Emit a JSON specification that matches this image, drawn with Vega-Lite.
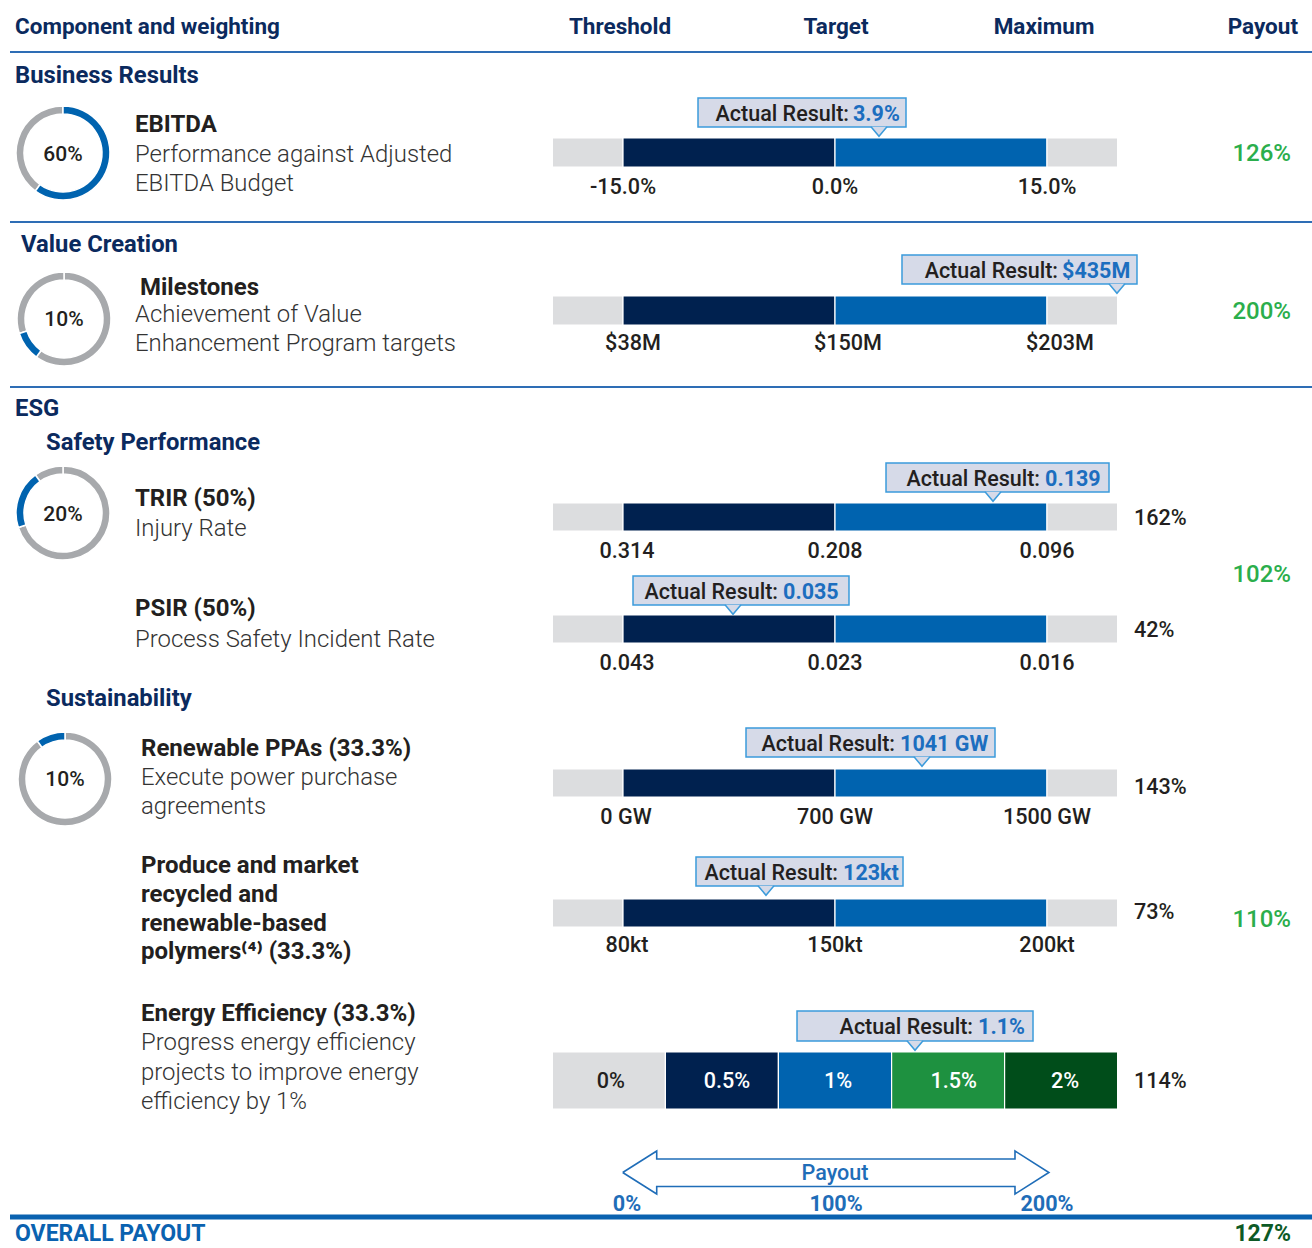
{
  "$schema": "https://vega.github.io/schema/vega-lite/v6.json",
  "width": 1312,
  "height": 1248,
  "autosize": {"type": "none"},
  "padding": 0,
  "background": "#ffffff",
  "config": {"view": {"stroke": null}, "font": "Roboto"},
  "datasets": {
    "rules": [
      {"kind": "thin", "x0": -289.15, "x1": 325, "y": 52},
      {"kind": "thin", "x0": -289.15, "x1": 325, "y": 222},
      {"kind": "thin", "x0": -289.15, "x1": 325, "y": 387},
      {"kind": "thick", "x0": -289.15, "x1": 325, "y": 1217}
    ],
    "bars": [
      {"metric": "EBITDA", "band": "gray", "from": -33.3, "to": 0, "top": 138, "bottom": 167},
      {"metric": "EBITDA", "band": "navy", "from": 0, "to": 100, "top": 138, "bottom": 167},
      {"metric": "EBITDA", "band": "blue", "from": 100, "to": 200, "top": 138, "bottom": 167},
      {"metric": "EBITDA", "band": "gray", "from": 200, "to": 233.3, "top": 138, "bottom": 167},
      {"metric": "Milestones", "band": "gray", "from": -33.3, "to": 0, "top": 296, "bottom": 325},
      {"metric": "Milestones", "band": "navy", "from": 0, "to": 100, "top": 296, "bottom": 325},
      {"metric": "Milestones", "band": "blue", "from": 100, "to": 200, "top": 296, "bottom": 325},
      {"metric": "Milestones", "band": "gray", "from": 200, "to": 233.3, "top": 296, "bottom": 325},
      {"metric": "TRIR", "band": "gray", "from": -33.3, "to": 0, "top": 503, "bottom": 531},
      {"metric": "TRIR", "band": "navy", "from": 0, "to": 100, "top": 503, "bottom": 531},
      {"metric": "TRIR", "band": "blue", "from": 100, "to": 200, "top": 503, "bottom": 531},
      {"metric": "TRIR", "band": "gray", "from": 200, "to": 233.3, "top": 503, "bottom": 531},
      {"metric": "PSIR", "band": "gray", "from": -33.3, "to": 0, "top": 615, "bottom": 643},
      {"metric": "PSIR", "band": "navy", "from": 0, "to": 100, "top": 615, "bottom": 643},
      {"metric": "PSIR", "band": "blue", "from": 100, "to": 200, "top": 615, "bottom": 643},
      {"metric": "PSIR", "band": "gray", "from": 200, "to": 233.3, "top": 615, "bottom": 643},
      {"metric": "PPA", "band": "gray", "from": -33.3, "to": 0, "top": 769, "bottom": 797},
      {"metric": "PPA", "band": "navy", "from": 0, "to": 100, "top": 769, "bottom": 797},
      {"metric": "PPA", "band": "blue", "from": 100, "to": 200, "top": 769, "bottom": 797},
      {"metric": "PPA", "band": "gray", "from": 200, "to": 233.3, "top": 769, "bottom": 797},
      {"metric": "Polymers", "band": "gray", "from": -33.3, "to": 0, "top": 899, "bottom": 927},
      {"metric": "Polymers", "band": "navy", "from": 0, "to": 100, "top": 899, "bottom": 927},
      {"metric": "Polymers", "band": "blue", "from": 100, "to": 200, "top": 899, "bottom": 927},
      {"metric": "Polymers", "band": "gray", "from": 200, "to": 233.3, "top": 899, "bottom": 927},
      {"metric": "Energy", "band": "gray", "from": -33.3, "to": 20, "top": 1052, "bottom": 1109},
      {"metric": "Energy", "band": "navy", "from": 20, "to": 73.3, "top": 1052, "bottom": 1109},
      {"metric": "Energy", "band": "blue", "from": 73.3, "to": 126.7, "top": 1052, "bottom": 1109},
      {"metric": "Energy", "band": "green", "from": 126.7, "to": 180, "top": 1052, "bottom": 1109},
      {"metric": "Energy", "band": "darkgreen", "from": 180, "to": 233.3, "top": 1052, "bottom": 1109}
    ],
    "donuts": [
      {"donut": "EBITDA", "part": "weight", "start": 0, "end": 60, "x": -264.15, "y": 153},
      {"donut": "EBITDA", "part": "rest", "start": 60, "end": 100, "x": -264.15, "y": 153},
      {"donut": "Milestones", "part": "rest", "start": 0, "end": 60, "x": -263.68, "y": 319},
      {"donut": "Milestones", "part": "weight", "start": 60, "end": 70, "x": -263.68, "y": 319},
      {"donut": "Milestones", "part": "rest", "start": 70, "end": 100, "x": -263.68, "y": 319},
      {"donut": "Safety", "part": "rest", "start": 0, "end": 70, "x": -264.15, "y": 513},
      {"donut": "Safety", "part": "weight", "start": 70, "end": 90, "x": -264.15, "y": 513},
      {"donut": "Safety", "part": "rest", "start": 90, "end": 100, "x": -264.15, "y": 513},
      {"donut": "Sustainability", "part": "rest", "start": 0, "end": 90, "x": -263.21, "y": 779},
      {"donut": "Sustainability", "part": "weight", "start": 90, "end": 100, "x": -263.21, "y": 779}
    ],
    "callouts": [
      {"metric": "EBITDA", "label": "Actual Result:", "value": "3.9%", "x0": 35.38, "x1": 133.49, "ytop": 98, "ybot": 127, "ymid": 112.5, "xl": 106.6, "xv": 108.5, "xp": 120.75},
      {"metric": "Milestones", "label": "Actual Result:", "value": "$435M", "x0": 131.6, "x1": 242.45, "ytop": 255, "ybot": 284, "ymid": 269.5, "xl": 205.2, "xv": 207.1, "xp": 233.0},
      {"metric": "TRIR", "label": "Actual Result:", "value": "0.139", "x0": 124.06, "x1": 229.25, "ytop": 463, "ybot": 492, "ymid": 477.5, "xl": 196.7, "xv": 199.1, "xp": 174.53},
      {"metric": "PSIR", "label": "Actual Result:", "value": "0.035", "x0": 4.72, "x1": 106.6, "ytop": 576, "ybot": 605, "ymid": 590.5, "xl": 73.1, "xv": 75.5, "xp": 51.89},
      {"metric": "PPA", "label": "Actual Result:", "value": "1041 GW", "x0": 58.02, "x1": 175.47, "ytop": 728, "ybot": 757, "ymid": 742.5, "xl": 128.3, "xv": 130.7, "xp": 141.04},
      {"metric": "Polymers", "label": "Actual Result:", "value": "123kt", "x0": 34.43, "x1": 132.08, "ytop": 857, "ybot": 886, "ymid": 871.5, "xl": 101.4, "xv": 103.8, "xp": 67.45},
      {"metric": "Energy", "label": "Actual Result:", "value": "1.1%", "x0": 82.08, "x1": 193.4, "ytop": 1011, "ybot": 1041, "ymid": 1026, "xl": 165.1, "xv": 167.5, "xp": 137.74}
    ],
    "arrow": [
      {"i": 1, "x": -0.14, "y": 1172.5},
      {"i": 2, "x": 15.9, "y": 1151},
      {"i": 3, "x": 15.9, "y": 1159},
      {"i": 4, "x": 184.9, "y": 1159},
      {"i": 5, "x": 184.9, "y": 1151},
      {"i": 6, "x": 200.9, "y": 1172.5},
      {"i": 7, "x": 184.9, "y": 1194},
      {"i": 8, "x": 184.9, "y": 1186.5},
      {"i": 9, "x": 15.9, "y": 1186.5},
      {"i": 10, "x": 15.9, "y": 1194},
      {"i": 11, "x": -0.14, "y": 1172.5}
    ],
    "texts": [
      {"kind": "header_left", "text": "Component and weighting", "x": -286.79, "y": 25},
      {"kind": "header_center", "text": "Threshold", "x": -1.4, "y": 25},
      {"kind": "header_center", "text": "Target", "x": 100.5, "y": 25},
      {"kind": "header_center", "text": "Maximum", "x": 198.6, "y": 25},
      {"kind": "header_right", "text": "Payout", "x": 318.4, "y": 25},
      {"kind": "section", "text": "Business Results", "x": -286.79, "y": 74},
      {"kind": "section", "text": "Value Creation", "x": -283.96, "y": 243},
      {"kind": "section", "text": "ESG", "x": -286.79, "y": 407},
      {"kind": "section", "text": "Safety Performance", "x": -272.17, "y": 441},
      {"kind": "section", "text": "Sustainability", "x": -272.17, "y": 697},
      {"kind": "title", "text": "EBITDA", "x": -230.19, "y": 123},
      {"kind": "title", "text": "Milestones", "x": -227.83, "y": 285.5},
      {"kind": "title", "text": "TRIR (50%)", "x": -230.19, "y": 497},
      {"kind": "title", "text": "PSIR (50%)", "x": -230.19, "y": 607},
      {"kind": "title", "text": "Renewable PPAs (33.3%)", "x": -227.36, "y": 747},
      {"kind": "title", "text": "Produce and market", "x": -227.36, "y": 864},
      {"kind": "title", "text": "recycled and", "x": -227.36, "y": 893},
      {"kind": "title", "text": "renewable-based", "x": -227.36, "y": 922},
      {"kind": "title", "text": "polymers⁽⁴⁾ (33.3%)", "x": -227.36, "y": 950},
      {"kind": "title", "text": "Energy Efficiency (33.3%)", "x": -227.36, "y": 1012},
      {"kind": "desc", "text": "Performance against Adjusted", "x": -230.19, "y": 152.5},
      {"kind": "desc", "text": "EBITDA Budget", "x": -230.19, "y": 181.5},
      {"kind": "desc", "text": "Achievement of Value", "x": -230.19, "y": 312.5},
      {"kind": "desc", "text": "Enhancement Program targets", "x": -230.19, "y": 342},
      {"kind": "desc", "text": "Injury Rate", "x": -230.19, "y": 527},
      {"kind": "desc", "text": "Process Safety Incident Rate", "x": -230.19, "y": 637.5},
      {"kind": "desc", "text": "Execute power purchase", "x": -227.36, "y": 776},
      {"kind": "desc", "text": "agreements", "x": -227.36, "y": 805},
      {"kind": "desc", "text": "Progress energy efficiency", "x": -227.36, "y": 1041},
      {"kind": "desc", "text": "projects to improve energy", "x": -227.36, "y": 1070.5},
      {"kind": "desc", "text": "efficiency by 1%", "x": -227.36, "y": 1099.5},
      {"kind": "donut", "text": "60%", "x": -264.15, "y": 153},
      {"kind": "donut", "text": "10%", "x": -263.68, "y": 318},
      {"kind": "donut", "text": "20%", "x": -264.15, "y": 513},
      {"kind": "donut", "text": "10%", "x": -263.21, "y": 778},
      {"kind": "tick", "text": "-15.0%", "x": 0, "y": 185.5},
      {"kind": "tick", "text": "0.0%", "x": 100, "y": 185.5},
      {"kind": "tick", "text": "15.0%", "x": 200, "y": 185.5},
      {"kind": "tick", "text": "$38M", "x": 4.7, "y": 341.5},
      {"kind": "tick", "text": "$150M", "x": 106.1, "y": 341.5},
      {"kind": "tick", "text": "$203M", "x": 206.1, "y": 341.5},
      {"kind": "tick", "text": "0.314", "x": 1.9, "y": 549.5},
      {"kind": "tick", "text": "0.208", "x": 100, "y": 549.5},
      {"kind": "tick", "text": "0.096", "x": 200, "y": 549.5},
      {"kind": "tick", "text": "0.043", "x": 1.9, "y": 661.5},
      {"kind": "tick", "text": "0.023", "x": 100, "y": 661.5},
      {"kind": "tick", "text": "0.016", "x": 200, "y": 661.5},
      {"kind": "tick", "text": "0 GW", "x": 1.4, "y": 815.5},
      {"kind": "tick", "text": "700 GW", "x": 100, "y": 815.5},
      {"kind": "tick", "text": "1500 GW", "x": 200, "y": 815.5},
      {"kind": "tick", "text": "80kt", "x": 1.9, "y": 943.5},
      {"kind": "tick", "text": "150kt", "x": 100, "y": 943.5},
      {"kind": "tick", "text": "200kt", "x": 200, "y": 943.5},
      {"kind": "energy_dark", "text": "0%", "x": -5.7, "y": 1080},
      {"kind": "energy_light", "text": "0.5%", "x": 49, "y": 1080},
      {"kind": "energy_light", "text": "1%", "x": 101.4, "y": 1080},
      {"kind": "energy_light", "text": "1.5%", "x": 156, "y": 1080},
      {"kind": "energy_light", "text": "2%", "x": 208.5, "y": 1080},
      {"kind": "payout", "text": "126%", "x": 315.09, "y": 152},
      {"kind": "payout", "text": "200%", "x": 315.09, "y": 310},
      {"kind": "payout", "text": "102%", "x": 315.09, "y": 573},
      {"kind": "payout", "text": "110%", "x": 315.09, "y": 918},
      {"kind": "subpayout", "text": "162%", "x": 241.04, "y": 517},
      {"kind": "subpayout", "text": "42%", "x": 241.04, "y": 629},
      {"kind": "subpayout", "text": "143%", "x": 241.04, "y": 786},
      {"kind": "subpayout", "text": "73%", "x": 241.04, "y": 911},
      {"kind": "subpayout", "text": "114%", "x": 241.04, "y": 1080},
      {"kind": "arrow_title", "text": "Payout", "x": 100, "y": 1172},
      {"kind": "arrow_tick", "text": "0%", "x": 1.9, "y": 1202.5},
      {"kind": "arrow_tick", "text": "100%", "x": 100.5, "y": 1202.5},
      {"kind": "arrow_tick", "text": "200%", "x": 200, "y": 1202.5},
      {"kind": "overall_label", "text": "OVERALL PAYOUT", "x": -286.79, "y": 1232},
      {"kind": "overall_value", "text": "127%", "x": 315.09, "y": 1232}
    ]
  },
  "layer": [
    {
      "data": {"name": "rules"},
      "transform": [{"filter": "datum.kind === 'thin'"}],
      "mark": {"type": "rule", "color": "#2E6DB5", "strokeWidth": 2},
      "encoding": {
        "x": {"field": "x0", "type": "quantitative", "scale": {"domain": [-293.87, 325], "nice": false, "zero": false}, "axis": null},
        "x2": {"field": "x1"},
        "y": {"field": "y", "type": "quantitative", "scale": {"domain": [0, 1248], "reverse": true, "nice": false, "zero": false}, "axis": null}
      }
    },
    {
      "data": {"name": "rules"},
      "transform": [{"filter": "datum.kind === 'thick'"}],
      "mark": {"type": "rule", "color": "#0A62B0", "strokeWidth": 5},
      "encoding": {
        "x": {"field": "x0", "type": "quantitative", "scale": {"domain": [-293.87, 325], "nice": false, "zero": false}, "axis": null},
        "x2": {"field": "x1"},
        "y": {"field": "y", "type": "quantitative", "scale": {"domain": [0, 1248], "reverse": true, "nice": false, "zero": false}, "axis": null}
      }
    },
    {
      "data": {"name": "bars"},
      "mark": {"type": "rect", "stroke": "#ffffff", "strokeWidth": 1.2},
      "encoding": {
        "x": {"field": "from", "type": "quantitative", "scale": {"domain": [-293.87, 325], "nice": false, "zero": false}, "axis": null},
        "x2": {"field": "to"},
        "y": {"field": "top", "type": "quantitative", "scale": {"domain": [0, 1248], "reverse": true, "nice": false, "zero": false}, "axis": null},
        "y2": {"field": "bottom"},
        "color": {"field": "band", "type": "nominal", "legend": null, "scale": {"domain": ["gray", "navy", "blue", "green", "darkgreen"], "range": ["#DCDDDF", "#00214F", "#0063AF", "#1E9140", "#004D1A"]}}
      }
    },
    {
      "data": {"name": "donuts"},
      "transform": [{"filter": "datum.part === 'rest'"}],
      "mark": {"type": "arc", "radius": 47, "radius2": 39, "fill": "#A7A9AC", "stroke": "#ffffff", "strokeWidth": 1.5},
      "encoding": {
        "x": {"field": "x", "type": "quantitative", "scale": {"domain": [-293.87, 325], "nice": false, "zero": false}, "axis": null},
        "y": {"field": "y", "type": "quantitative", "scale": {"domain": [0, 1248], "reverse": true, "nice": false, "zero": false}, "axis": null},
        "theta": {"field": "start", "type": "quantitative", "stack": null, "scale": {"domain": [0, 100], "range": [0, 6.283185307179586]}},
        "theta2": {"field": "end"}
      }
    },
    {
      "data": {"name": "donuts"},
      "transform": [{"filter": "datum.part === 'weight'"}],
      "mark": {"type": "arc", "radius": 47, "radius2": 39, "fill": "#0063AF", "stroke": "#ffffff", "strokeWidth": 1.5},
      "encoding": {
        "x": {"field": "x", "type": "quantitative", "scale": {"domain": [-293.87, 325], "nice": false, "zero": false}, "axis": null},
        "y": {"field": "y", "type": "quantitative", "scale": {"domain": [0, 1248], "reverse": true, "nice": false, "zero": false}, "axis": null},
        "theta": {"field": "start", "type": "quantitative", "stack": null, "scale": {"domain": [0, 100], "range": [0, 6.283185307179586]}},
        "theta2": {"field": "end"}
      }
    },
    {
      "data": {"name": "callouts"},
      "mark": {"type": "rect", "fill": "#D6DAE8", "stroke": "#3B9BDB", "strokeWidth": 1.5},
      "encoding": {
        "x": {"field": "x0", "type": "quantitative", "scale": {"domain": [-293.87, 325], "nice": false, "zero": false}, "axis": null},
        "x2": {"field": "x1"},
        "y": {"field": "ytop", "type": "quantitative", "scale": {"domain": [0, 1248], "reverse": true, "nice": false, "zero": false}, "axis": null},
        "y2": {"field": "ybot"}
      }
    },
    {
      "data": {"name": "callouts"},
      "mark": {"type": "point", "shape": "M-1,-0.6L0,0.6L1,-0.6", "size": 256, "filled": true, "fill": "#D6DAE8", "stroke": "#3B9BDB", "strokeWidth": 1.5, "opacity": 1, "yOffset": 4.5},
      "encoding": {
        "x": {"field": "xp", "type": "quantitative", "scale": {"domain": [-293.87, 325], "nice": false, "zero": false}, "axis": null},
        "y": {"field": "ybot", "type": "quantitative", "scale": {"domain": [0, 1248], "reverse": true, "nice": false, "zero": false}, "axis": null}
      }
    },
    {
      "data": {"name": "callouts"},
      "mark": {"type": "text", "align": "right", "baseline": "middle", "dy": 2, "font": "Roboto", "fontSize": 21.5, "fontWeight": 500, "color": "#231F20"},
      "encoding": {
        "x": {"field": "xl", "type": "quantitative", "scale": {"domain": [-293.87, 325], "nice": false, "zero": false}, "axis": null},
        "y": {"field": "ymid", "type": "quantitative", "scale": {"domain": [0, 1248], "reverse": true, "nice": false, "zero": false}, "axis": null},
        "text": {"field": "label"}
      }
    },
    {
      "data": {"name": "callouts"},
      "mark": {"type": "text", "align": "left", "baseline": "middle", "dy": 2, "font": "Roboto", "fontSize": 21.5, "fontWeight": "bold", "color": "#1C6EBF"},
      "encoding": {
        "x": {"field": "xv", "type": "quantitative", "scale": {"domain": [-293.87, 325], "nice": false, "zero": false}, "axis": null},
        "y": {"field": "ymid", "type": "quantitative", "scale": {"domain": [0, 1248], "reverse": true, "nice": false, "zero": false}, "axis": null},
        "text": {"field": "value"}
      }
    },
    {
      "data": {"name": "arrow"},
      "mark": {"type": "line", "color": "#1F6DB8", "strokeWidth": 1.6},
      "encoding": {
        "x": {"field": "x", "type": "quantitative", "scale": {"domain": [-293.87, 325], "nice": false, "zero": false}, "axis": null},
        "y": {"field": "y", "type": "quantitative", "scale": {"domain": [0, 1248], "reverse": true, "nice": false, "zero": false}, "axis": null},
        "order": {"field": "i", "type": "quantitative"}
      }
    },
    {
      "data": {"name": "texts"},
      "transform": [{"filter": "datum.kind === 'header_left'"}],
      "mark": {"type": "text", "align": "left", "baseline": "middle", "dy": 2, "font": "Roboto", "fontSize": 22.5, "fontWeight": "bold", "color": "#0B2A5E"},
      "encoding": {
        "x": {"field": "x", "type": "quantitative", "scale": {"domain": [-293.87, 325], "nice": false, "zero": false}, "axis": null},
        "y": {"field": "y", "type": "quantitative", "scale": {"domain": [0, 1248], "reverse": true, "nice": false, "zero": false}, "axis": null},
        "text": {"field": "text"}
      }
    },
    {
      "data": {"name": "texts"},
      "transform": [{"filter": "datum.kind === 'section'"}],
      "mark": {"type": "text", "align": "left", "baseline": "middle", "dy": 2, "font": "Roboto", "fontSize": 23.8, "fontWeight": "bold", "color": "#0B2A5E"},
      "encoding": {
        "x": {"field": "x", "type": "quantitative", "scale": {"domain": [-293.87, 325], "nice": false, "zero": false}, "axis": null},
        "y": {"field": "y", "type": "quantitative", "scale": {"domain": [0, 1248], "reverse": true, "nice": false, "zero": false}, "axis": null},
        "text": {"field": "text"}
      }
    },
    {
      "data": {"name": "texts"},
      "transform": [{"filter": "datum.kind === 'header_center'"}],
      "mark": {"type": "text", "align": "center", "baseline": "middle", "dy": 2, "font": "Roboto", "fontSize": 22.5, "fontWeight": "bold", "color": "#0B2A5E"},
      "encoding": {
        "x": {"field": "x", "type": "quantitative", "scale": {"domain": [-293.87, 325], "nice": false, "zero": false}, "axis": null},
        "y": {"field": "y", "type": "quantitative", "scale": {"domain": [0, 1248], "reverse": true, "nice": false, "zero": false}, "axis": null},
        "text": {"field": "text"}
      }
    },
    {
      "data": {"name": "texts"},
      "transform": [{"filter": "datum.kind === 'header_right'"}],
      "mark": {"type": "text", "align": "right", "baseline": "middle", "dy": 2, "font": "Roboto", "fontSize": 22.5, "fontWeight": "bold", "color": "#0B2A5E"},
      "encoding": {
        "x": {"field": "x", "type": "quantitative", "scale": {"domain": [-293.87, 325], "nice": false, "zero": false}, "axis": null},
        "y": {"field": "y", "type": "quantitative", "scale": {"domain": [0, 1248], "reverse": true, "nice": false, "zero": false}, "axis": null},
        "text": {"field": "text"}
      }
    },
    {
      "data": {"name": "texts"},
      "transform": [{"filter": "datum.kind === 'title'"}],
      "mark": {"type": "text", "align": "left", "baseline": "middle", "dy": 2, "font": "Roboto", "fontSize": 24, "fontWeight": "bold", "color": "#231F20"},
      "encoding": {
        "x": {"field": "x", "type": "quantitative", "scale": {"domain": [-293.87, 325], "nice": false, "zero": false}, "axis": null},
        "y": {"field": "y", "type": "quantitative", "scale": {"domain": [0, 1248], "reverse": true, "nice": false, "zero": false}, "axis": null},
        "text": {"field": "text"}
      }
    },
    {
      "data": {"name": "texts"},
      "transform": [{"filter": "datum.kind === 'desc'"}],
      "mark": {"type": "text", "align": "left", "baseline": "middle", "dy": 2, "font": "Roboto", "fontSize": 23.9, "fontWeight": 300, "color": "#333333"},
      "encoding": {
        "x": {"field": "x", "type": "quantitative", "scale": {"domain": [-293.87, 325], "nice": false, "zero": false}, "axis": null},
        "y": {"field": "y", "type": "quantitative", "scale": {"domain": [0, 1248], "reverse": true, "nice": false, "zero": false}, "axis": null},
        "text": {"field": "text"}
      }
    },
    {
      "data": {"name": "texts"},
      "transform": [{"filter": "datum.kind === 'donut'"}],
      "mark": {"type": "text", "align": "center", "baseline": "middle", "dy": 1.5, "font": "Roboto", "fontSize": 21, "fontWeight": 500, "color": "#231F20"},
      "encoding": {
        "x": {"field": "x", "type": "quantitative", "scale": {"domain": [-293.87, 325], "nice": false, "zero": false}, "axis": null},
        "y": {"field": "y", "type": "quantitative", "scale": {"domain": [0, 1248], "reverse": true, "nice": false, "zero": false}, "axis": null},
        "text": {"field": "text"}
      }
    },
    {
      "data": {"name": "texts"},
      "transform": [{"filter": "datum.kind === 'tick' || datum.kind === 'energy_dark'"}],
      "mark": {"type": "text", "align": "center", "baseline": "middle", "dy": 2, "font": "Roboto", "fontSize": 21.6, "fontWeight": 500, "color": "#231F20"},
      "encoding": {
        "x": {"field": "x", "type": "quantitative", "scale": {"domain": [-293.87, 325], "nice": false, "zero": false}, "axis": null},
        "y": {"field": "y", "type": "quantitative", "scale": {"domain": [0, 1248], "reverse": true, "nice": false, "zero": false}, "axis": null},
        "text": {"field": "text"}
      }
    },
    {
      "data": {"name": "texts"},
      "transform": [{"filter": "datum.kind === 'energy_light'"}],
      "mark": {"type": "text", "align": "center", "baseline": "middle", "dy": 2, "font": "Roboto", "fontSize": 21.6, "fontWeight": 500, "color": "#ffffff"},
      "encoding": {
        "x": {"field": "x", "type": "quantitative", "scale": {"domain": [-293.87, 325], "nice": false, "zero": false}, "axis": null},
        "y": {"field": "y", "type": "quantitative", "scale": {"domain": [0, 1248], "reverse": true, "nice": false, "zero": false}, "axis": null},
        "text": {"field": "text"}
      }
    },
    {
      "data": {"name": "texts"},
      "transform": [{"filter": "datum.kind === 'subpayout'"}],
      "mark": {"type": "text", "align": "left", "baseline": "middle", "dy": 2, "font": "Roboto", "fontSize": 21.6, "fontWeight": 500, "color": "#231F20"},
      "encoding": {
        "x": {"field": "x", "type": "quantitative", "scale": {"domain": [-293.87, 325], "nice": false, "zero": false}, "axis": null},
        "y": {"field": "y", "type": "quantitative", "scale": {"domain": [0, 1248], "reverse": true, "nice": false, "zero": false}, "axis": null},
        "text": {"field": "text"}
      }
    },
    {
      "data": {"name": "texts"},
      "transform": [{"filter": "datum.kind === 'payout'"}],
      "mark": {"type": "text", "align": "right", "baseline": "middle", "dy": 2, "font": "Roboto", "fontSize": 24, "fontWeight": 500, "color": "#2BAE4C"},
      "encoding": {
        "x": {"field": "x", "type": "quantitative", "scale": {"domain": [-293.87, 325], "nice": false, "zero": false}, "axis": null},
        "y": {"field": "y", "type": "quantitative", "scale": {"domain": [0, 1248], "reverse": true, "nice": false, "zero": false}, "axis": null},
        "text": {"field": "text"}
      }
    },
    {
      "data": {"name": "texts"},
      "transform": [{"filter": "datum.kind === 'arrow_title'"}],
      "mark": {"type": "text", "align": "center", "baseline": "middle", "dy": 2, "font": "Roboto", "fontSize": 21.6, "fontWeight": 500, "color": "#1F6DB8"},
      "encoding": {
        "x": {"field": "x", "type": "quantitative", "scale": {"domain": [-293.87, 325], "nice": false, "zero": false}, "axis": null},
        "y": {"field": "y", "type": "quantitative", "scale": {"domain": [0, 1248], "reverse": true, "nice": false, "zero": false}, "axis": null},
        "text": {"field": "text"}
      }
    },
    {
      "data": {"name": "texts"},
      "transform": [{"filter": "datum.kind === 'arrow_tick'"}],
      "mark": {"type": "text", "align": "center", "baseline": "middle", "dy": 2, "font": "Roboto", "fontSize": 21.6, "fontWeight": "bold", "color": "#1F6DB8"},
      "encoding": {
        "x": {"field": "x", "type": "quantitative", "scale": {"domain": [-293.87, 325], "nice": false, "zero": false}, "axis": null},
        "y": {"field": "y", "type": "quantitative", "scale": {"domain": [0, 1248], "reverse": true, "nice": false, "zero": false}, "axis": null},
        "text": {"field": "text"}
      }
    },
    {
      "data": {"name": "texts"},
      "transform": [{"filter": "datum.kind === 'overall_label'"}],
      "mark": {"type": "text", "align": "left", "baseline": "middle", "dy": 2, "font": "Roboto", "fontSize": 23, "fontWeight": "bold", "color": "#0A62B0"},
      "encoding": {
        "x": {"field": "x", "type": "quantitative", "scale": {"domain": [-293.87, 325], "nice": false, "zero": false}, "axis": null},
        "y": {"field": "y", "type": "quantitative", "scale": {"domain": [0, 1248], "reverse": true, "nice": false, "zero": false}, "axis": null},
        "text": {"field": "text"}
      }
    },
    {
      "data": {"name": "texts"},
      "transform": [{"filter": "datum.kind === 'overall_value'"}],
      "mark": {"type": "text", "align": "right", "baseline": "middle", "dy": 2, "font": "Roboto", "fontSize": 23, "fontWeight": "bold", "color": "#0D5A26"},
      "encoding": {
        "x": {"field": "x", "type": "quantitative", "scale": {"domain": [-293.87, 325], "nice": false, "zero": false}, "axis": null},
        "y": {"field": "y", "type": "quantitative", "scale": {"domain": [0, 1248], "reverse": true, "nice": false, "zero": false}, "axis": null},
        "text": {"field": "text"}
      }
    }
  ]
}
